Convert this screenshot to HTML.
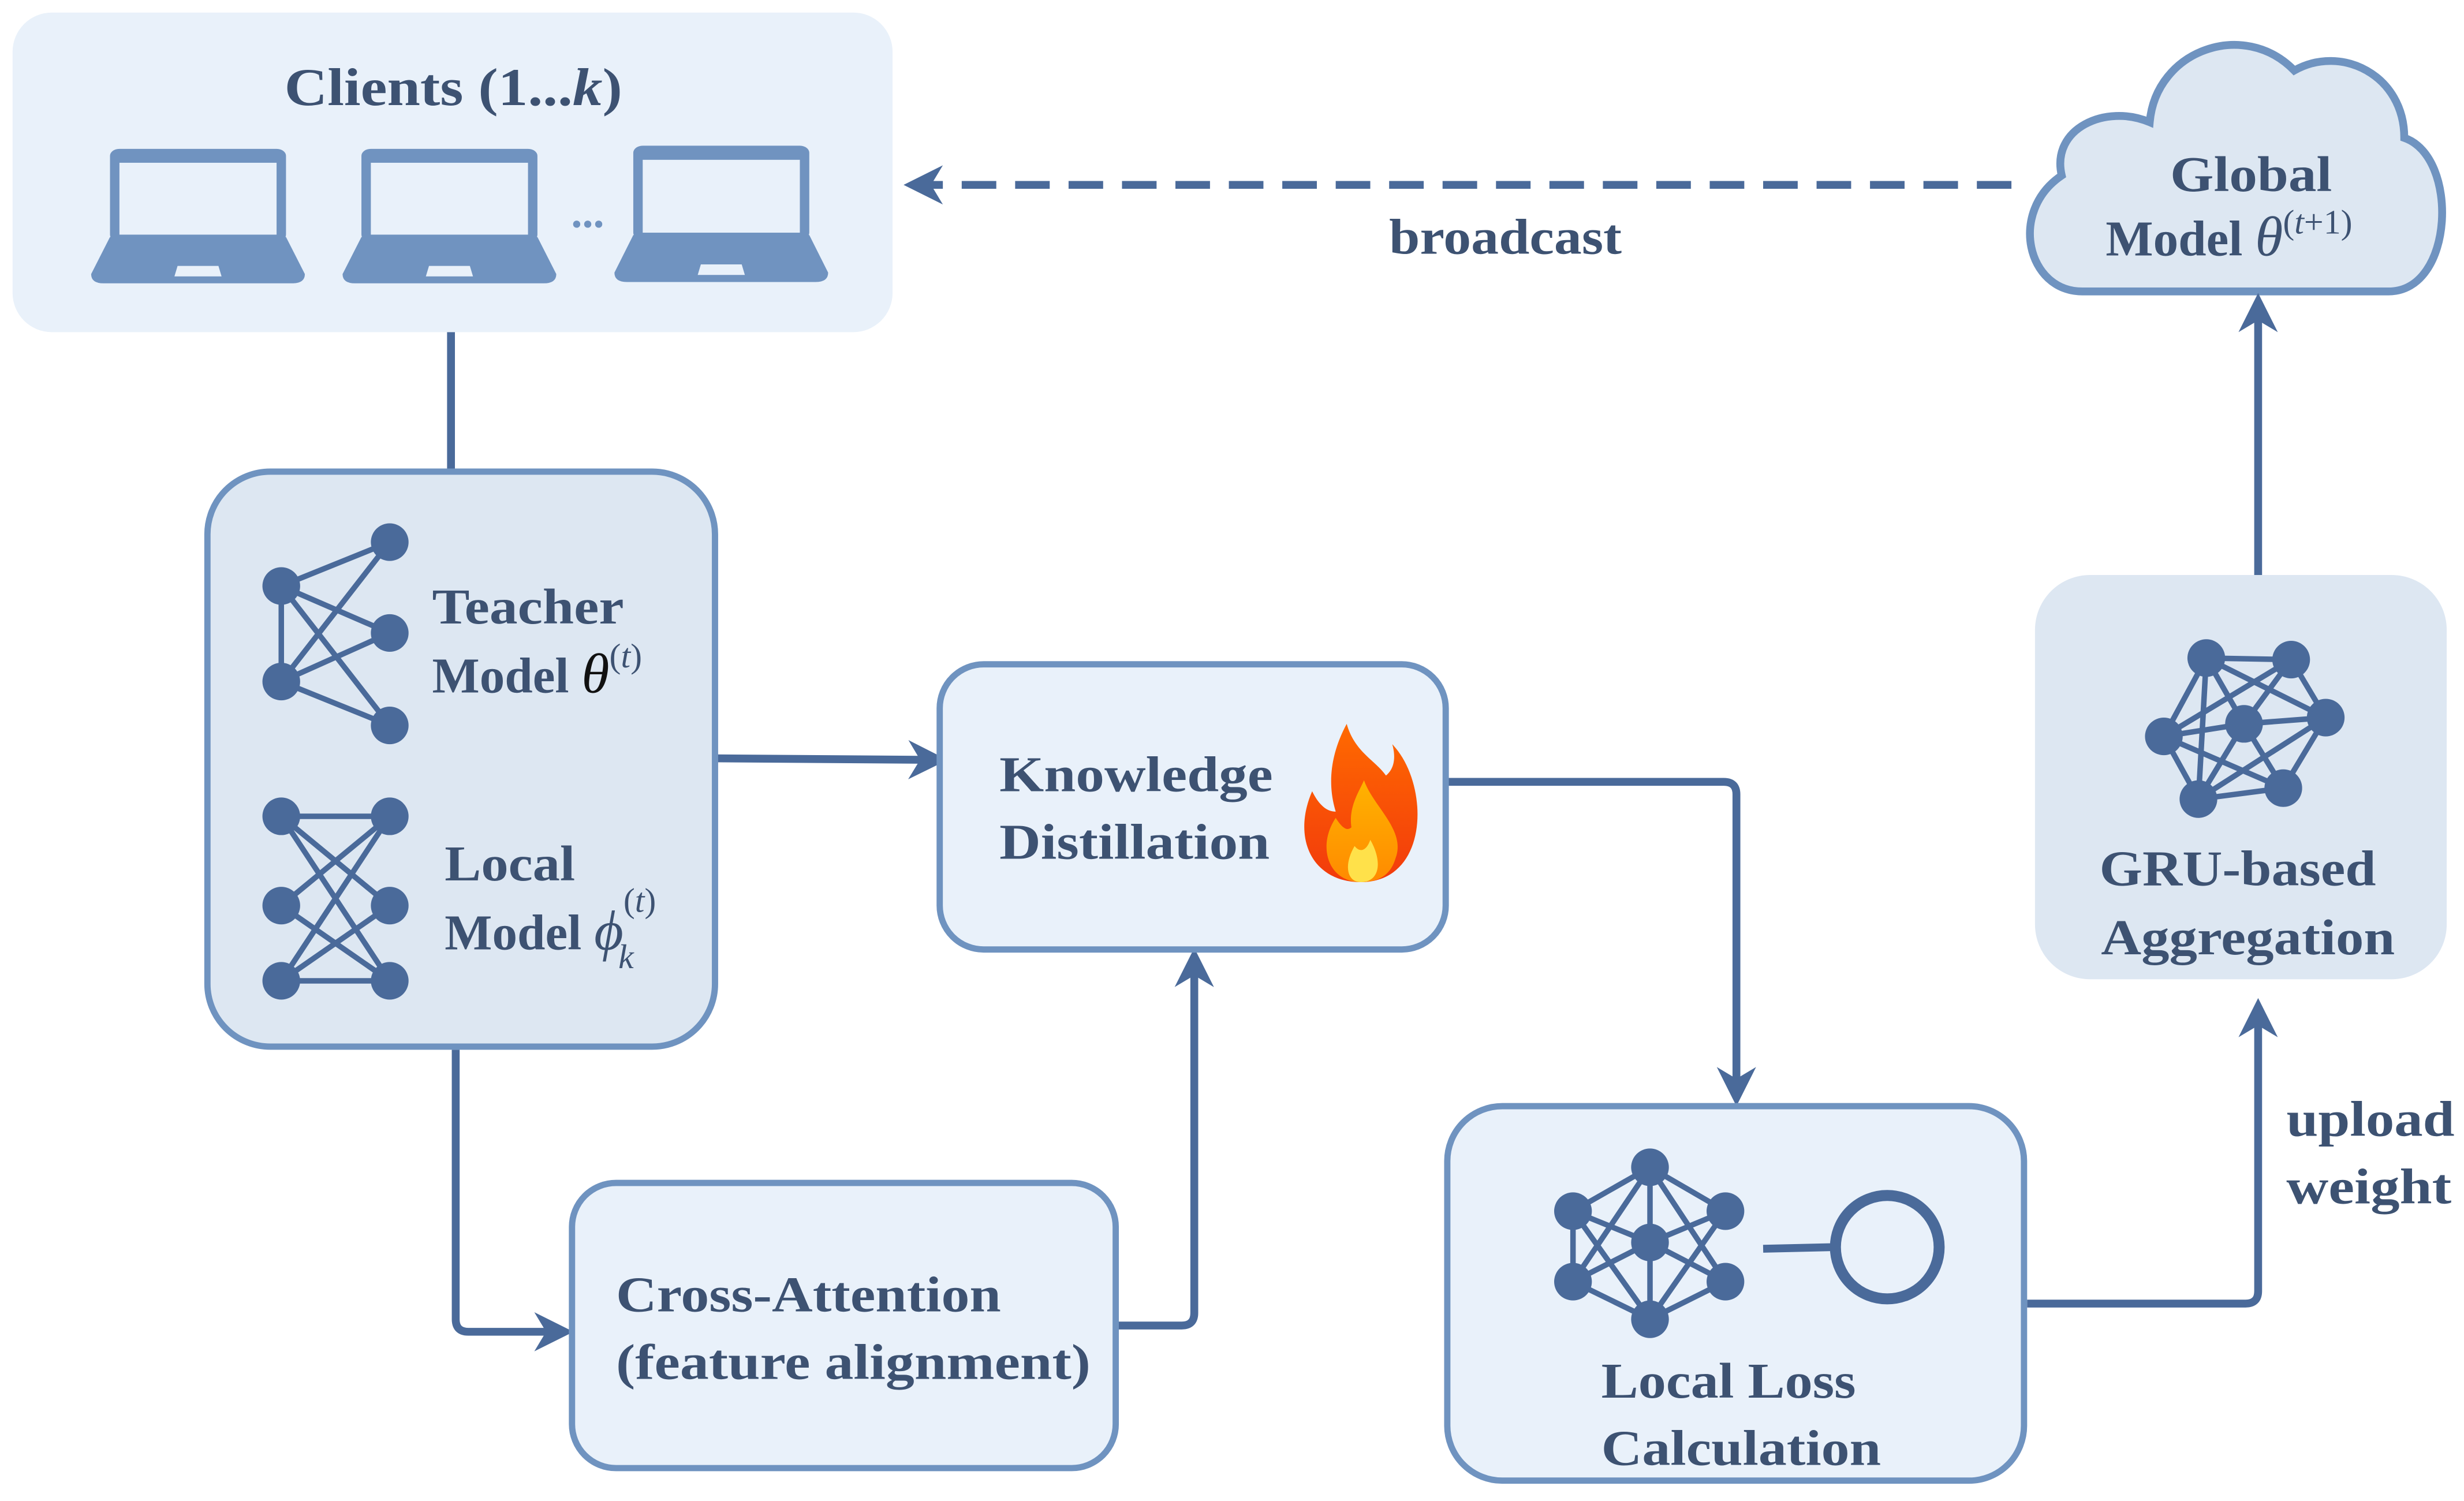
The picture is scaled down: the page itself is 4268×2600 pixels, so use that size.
<!DOCTYPE html>
<html><head><meta charset="utf-8"><style>
html,body{margin:0;padding:0;background:#fff;}
svg{display:block;}
text{font-family:"Liberation Serif","DejaVu Serif",serif;fill:#3d5272;font-weight:bold;}
</style></head><body>
<svg width="4268" height="2600" viewBox="0 0 1568 958" preserveAspectRatio="none" xmlns="http://www.w3.org/2000/svg">
<defs>
<marker id="ah" viewBox="0 0 10 10" refX="8" refY="5" markerWidth="5" markerHeight="5" orient="auto-start-reverse" markerUnits="strokeWidth">
<path d="M0,0 L10,5 L0,10 L3,5 Z" fill="#4a6a9a"/></marker>
<g id="lap">
<rect x="12" y="0" width="112" height="80" rx="6" fill="#7093c0"/>
<rect x="18" y="12" width="100" height="62" fill="#e9f1fa"/>
<path d="M12,76 L124,76 L136,108 Q136,116 128,116 L8,116 Q0,116 0,108 Z" fill="#7093c0"/>
<path d="M55,101 L81,101 L83,110 L53,110 Z" fill="#e9f1fa"/>
</g>
<linearGradient id="fg" x1="0" y1="0" x2="0" y2="1"><stop offset="0" stop-color="#ff6a00"/><stop offset="1" stop-color="#f23a0c"/></linearGradient>
<linearGradient id="fg2" x1="0" y1="0" x2="0" y2="1"><stop offset="0" stop-color="#ffb300"/><stop offset="1" stop-color="#ff8a00"/></linearGradient>
</defs>

<rect x="8" y="8" width="560" height="204" rx="25" fill="#e9f1fa"/>
<text x="181" y="67" font-size="34" textLength="215" lengthAdjust="spacingAndGlyphs">Clients (1...<tspan font-style="italic">k</tspan>)</text>
<g transform="translate(58,95) scale(1,0.74)"><use href="#lap"/></g>
<g transform="translate(218,95) scale(1,0.74)"><use href="#lap"/></g>
<g transform="translate(391,93) scale(1,0.75)"><use href="#lap"/></g>
<text x="374" y="145" font-size="28" text-anchor="middle" style="fill:#7093c0">...</text>

<line x1="1280" y1="118" x2="580" y2="118" stroke="#4a6a9a" stroke-width="5" stroke-dasharray="22,12" marker-end="url(#ah)"/>
<text x="884" y="162" font-size="32" textLength="148" lengthAdjust="spacingAndGlyphs">broadcast</text>

<path d="M1325,186 C1290,186 1278,135 1312,112 C1305,82 1340,66 1368,78 C1372,32 1428,12 1460,45 C1490,28 1530,48 1530,88 C1565,100 1562,186 1520,186 Z" fill="#dde7f2" stroke="#6f93c0" stroke-width="5"/>
<text x="1381" y="122" font-size="32" textLength="103" lengthAdjust="spacingAndGlyphs">Global</text>
<text x="1340" y="163" font-size="32">Model <tspan font-style="italic" font-size="36" font-weight="normal">θ</tspan><tspan font-size="22" font-weight="normal" dy="-14">(<tspan font-style="italic">t</tspan>+1)</tspan></text>

<g fill="none" stroke="#4a6a9a" stroke-width="5">
<line x1="287" y1="212" x2="287" y2="300"/>
<line x1="455" y1="484" x2="598" y2="485" marker-end="url(#ah)"/>
<path d="M290,670 V842 Q290,850 298,850 H360" marker-end="url(#ah)"/>
<path d="M710,846 H752 Q760,846 760,838 V610" marker-end="url(#ah)"/>
<path d="M920,499 H1097 Q1105,499 1105,507 V701" marker-end="url(#ah)"/>
<path d="M1290,832 H1429 Q1437,832 1437,824 V642" marker-end="url(#ah)"/>
<line x1="1437" y1="367" x2="1437" y2="192" marker-end="url(#ah)"/>
</g>

<rect x="132" y="301" width="323" height="367" rx="40" fill="#dde7f2" stroke="#6f93c0" stroke-width="4"/>
<g stroke="#4a6a9a" stroke-width="3.5">
<line x1="179" y1="374" x2="179" y2="435"/>
<line x1="179" y1="374" x2="248" y2="346"/><line x1="179" y1="374" x2="248" y2="404"/><line x1="179" y1="374" x2="248" y2="463"/>
<line x1="179" y1="435" x2="248" y2="346"/><line x1="179" y1="435" x2="248" y2="404"/><line x1="179" y1="435" x2="248" y2="463"/>
<line x1="179" y1="521" x2="248" y2="521"/><line x1="179" y1="626" x2="248" y2="626"/>
<line x1="179" y1="521" x2="248" y2="626"/><line x1="179" y1="626" x2="248" y2="521"/>
<line x1="179" y1="521" x2="248" y2="578"/><line x1="179" y1="578" x2="248" y2="521"/>
<line x1="179" y1="578" x2="248" y2="626"/><line x1="179" y1="626" x2="248" y2="578"/>
</g>
<g fill="#4a6a9a">
<circle cx="179" cy="374" r="12"/><circle cx="179" cy="435" r="12"/>
<circle cx="248" cy="346" r="12"/><circle cx="248" cy="404" r="12"/><circle cx="248" cy="463" r="12"/>
<circle cx="179" cy="521" r="12"/><circle cx="179" cy="578" r="12"/><circle cx="179" cy="626" r="12"/>
<circle cx="248" cy="521" r="12"/><circle cx="248" cy="578" r="12"/><circle cx="248" cy="626" r="12"/>
</g>
<text x="275" y="398" font-size="32" textLength="122" lengthAdjust="spacingAndGlyphs">Teacher</text>
<text x="275" y="442" font-size="32">Model <tspan font-style="italic" font-size="36" font-weight="normal" fill="#111">θ</tspan><tspan font-size="22" font-weight="normal" dy="-16">(<tspan font-style="italic">t</tspan>)</tspan></text>
<text x="283" y="562" font-size="32" textLength="83" lengthAdjust="spacingAndGlyphs">Local</text>
<text x="283" y="606" font-size="32">Model <tspan font-style="italic" font-size="36" font-weight="normal">ϕ</tspan><tspan font-size="22" font-weight="normal" dy="-24">(<tspan font-style="italic">t</tspan>)</tspan><tspan font-size="22" font-style="italic" font-weight="normal" dx="-24" dy="36">k</tspan></text>

<rect x="598" y="424" width="322" height="182" rx="28" fill="#e9f1fa" stroke="#6f93c0" stroke-width="4"/>
<text x="636" y="505" font-size="32" textLength="174" lengthAdjust="spacingAndGlyphs">Knowledge</text>
<text x="636" y="548" font-size="32" textLength="172" lengthAdjust="spacingAndGlyphs">Distillation</text>
<path d="M866,563 C835,563 822,535 835,505 C840,515 845,518 850,518 C843,495 850,475 857,462 C862,480 875,485 882,495 C888,490 888,482 886,475 C910,500 910,563 866,563 Z" fill="url(#fg)"/>
<path d="M866,563 C845,563 838,540 850,522 C855,530 858,530 860,528 C858,515 865,505 868,498 C874,515 895,530 888,548 C885,558 878,563 866,563 Z" fill="url(#fg2)"/>
<path d="M866,563 C857,563 855,552 862,540 C866,545 870,542 872,536 C880,550 878,563 866,563 Z" fill="#ffe14a"/>

<rect x="364" y="755" width="346" height="182" rx="28" fill="#e9f1fa" stroke="#6f93c0" stroke-width="4"/>
<text x="392" y="837" font-size="32" textLength="245" lengthAdjust="spacingAndGlyphs">Cross-Attention</text>
<text x="392" y="880" font-size="32" textLength="302" lengthAdjust="spacingAndGlyphs">(feature alignment)</text>

<rect x="921" y="706" width="367" height="239" rx="35" fill="#e9f1fa" stroke="#6f93c0" stroke-width="4"/>
<g stroke="#4a6a9a" stroke-width="3.5">
<line x1="1001" y1="773" x2="1050" y2="745"/><line x1="1001" y1="773" x2="1050" y2="793"/><line x1="1001" y1="773" x2="1050" y2="842"/>
<line x1="1001" y1="818" x2="1050" y2="745"/><line x1="1001" y1="818" x2="1050" y2="793"/><line x1="1001" y1="818" x2="1050" y2="842"/>
<line x1="1098" y1="773" x2="1050" y2="745"/><line x1="1098" y1="773" x2="1050" y2="793"/><line x1="1098" y1="773" x2="1050" y2="842"/>
<line x1="1098" y1="818" x2="1050" y2="745"/><line x1="1098" y1="818" x2="1050" y2="793"/><line x1="1098" y1="818" x2="1050" y2="842"/>
<line x1="1001" y1="773" x2="1001" y2="818"/><line x1="1050" y1="745" x2="1050" y2="842"/>
</g>
<g fill="#4a6a9a">
<circle cx="1001" cy="773" r="12"/><circle cx="1001" cy="818" r="12"/>
<circle cx="1050" cy="745" r="12"/><circle cx="1050" cy="793" r="12"/><circle cx="1050" cy="842" r="12"/>
<circle cx="1098" cy="773" r="12"/><circle cx="1098" cy="818" r="12"/>
</g>
<line x1="1122" y1="797" x2="1166" y2="796" stroke="#4a6a9a" stroke-width="5"/>
<circle cx="1201" cy="796" r="33" fill="none" stroke="#4a6a9a" stroke-width="7"/>
<text x="1019" y="892" font-size="32" textLength="162" lengthAdjust="spacingAndGlyphs">Local Loss</text>
<text x="1019" y="935" font-size="32" textLength="178" lengthAdjust="spacingAndGlyphs">Calculation</text>

<text x="1455" y="725" font-size="32" textLength="107" lengthAdjust="spacingAndGlyphs">upload</text>
<text x="1455" y="768" font-size="32" textLength="105" lengthAdjust="spacingAndGlyphs">weight</text>

<rect x="1295" y="367" width="262" height="258" rx="35" fill="#dde7f2"/>
<g stroke="#4a6a9a" stroke-width="3.5">
<line x1="1404" y1="420" x2="1458" y2="421"/><line x1="1404" y1="420" x2="1377" y2="470"/><line x1="1404" y1="420" x2="1428" y2="462"/>
<line x1="1404" y1="420" x2="1480" y2="458"/><line x1="1404" y1="420" x2="1399" y2="510"/>
<line x1="1458" y1="421" x2="1480" y2="458"/><line x1="1458" y1="421" x2="1428" y2="462"/><line x1="1458" y1="421" x2="1377" y2="470"/>
<line x1="1377" y1="470" x2="1428" y2="462"/><line x1="1377" y1="470" x2="1399" y2="510"/><line x1="1377" y1="470" x2="1453" y2="503"/>
<line x1="1428" y1="462" x2="1480" y2="458"/><line x1="1428" y1="462" x2="1399" y2="510"/><line x1="1428" y1="462" x2="1453" y2="503"/>
<line x1="1480" y1="458" x2="1453" y2="503"/><line x1="1480" y1="458" x2="1399" y2="510"/><line x1="1399" y1="510" x2="1453" y2="503"/>
</g>
<g fill="#4a6a9a">
<circle cx="1404" cy="420" r="12"/><circle cx="1458" cy="421" r="12"/><circle cx="1377" cy="470" r="12"/>
<circle cx="1428" cy="462" r="12"/><circle cx="1480" cy="458" r="12"/><circle cx="1399" cy="510" r="12"/><circle cx="1453" cy="503" r="12"/>
</g>
<text x="1336" y="565" font-size="32" textLength="176" lengthAdjust="spacingAndGlyphs">GRU-based</text>
<text x="1337" y="609" font-size="32" textLength="187" lengthAdjust="spacingAndGlyphs">Aggregation</text>
</svg>
</body></html>
